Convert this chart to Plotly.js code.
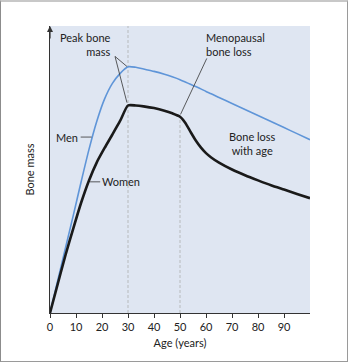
<!DOCTYPE html>
<html>
<head>
<meta charset="utf-8">
<script src="https://cdn.plot.ly/plotly-3.0.1.min.js"></script>
<style>
  html, body { margin: 0; padding: 0; background: #ffffff; }
  #frame {
    position: absolute; left: 0; top: 0;
    width: 346px; height: 359px;
    border-top: 2px solid #c8c8c8;
    border-left: 1px solid #8c8c8c;
    border-right: 1px solid #9a9a9a;
    border-bottom: 1px solid #9a9a9a;
  }
  #chart { width: 346px; height: 359px; }
</style>
</head>
<body>
<div id="frame"><div id="chart"></div></div>
<script>
// Age in years
const ages = [0,3,6,9,12,15,18,21,24,27,30,33,36,40,44,47,50,52,54,56,58,60,62,65,70,75,80,85,90,95,100];
// Relative bone mass, men
const menMass = [0,11.4,22.8,34.2,45.8,57,66.8,74.6,80,83.5,85.8,85.6,85,84.2,83.2,82.3,81.3,80.5,79.7,78.9,78.1,77.2,76.4,75.1,73,70.9,68.8,66.7,64.6,62.5,60.4];
// Relative bone mass, women
const womenMass = [0,10.2,20.3,29.6,38.5,46.2,52.5,57.5,62.2,67,72.3,72.3,72,71.4,70.5,69.6,68.4,66.3,63.2,60.2,57.7,55.7,54.2,52.4,50,48,46.2,44.5,43,41.5,40];
// Axis ticks
const xTicks = [0,10,20,30,40,50,60,70,80,90];
const xTickLabels = ['0','10','20','30','40','50','60','70','80','90'];
// Key ages marked by dashed lines
const peakAge = 30;
const menopauseAge = 50;
const womenAtMenopause = womenMass[ages.indexOf(menopauseAge)];

const FONT = 'Lato, "Open Sans", sans-serif';
const TXT = '#222222';

const traces = [
  { x: ages, y: menMass, type: 'scatter', mode: 'lines', name: 'Men',
    line: { color: '#5f95d8', width: 1.6, shape: 'spline', smoothing: 0.7 }, hoverinfo: 'skip' },
  { x: ages, y: womenMass, type: 'scatter', mode: 'lines', name: 'Women',
    line: { color: '#1a1a1a', width: 2.6, shape: 'spline', smoothing: 0.6 }, hoverinfo: 'skip' }
];

const leader = { color: '#333333', width: 0.8 };
const dashed = { color: '#a6a6a6', width: 0.7, dash: '3px,2px' };
const shapes = [
  { type: 'line', xref: 'x', yref: 'y', x0: peakAge, x1: peakAge, y0: 0, y1: 100, line: dashed, layer: 'below' },
  { type: 'line', xref: 'x', yref: 'y', x0: menopauseAge, x1: menopauseAge, y0: 0, y1: womenAtMenopause, line: dashed, layer: 'below' },
  // Peak bone mass leaders
  { type: 'line', x0: 25.0, y0: 89.4, x1: 29.6, y1: 85.9, line: leader },
  { type: 'line', x0: 25.0, y0: 89.4, x1: 29.6, y1: 73.3, line: leader },
  // Menopausal bone loss leader
  { type: 'line', x0: 60.3, y0: 88.7, x1: 50.2, y1: 69.2, line: leader },
  // Men / Women leaders
  { type: 'line', x0: 11.8, y0: 61.3, x1: 16.0, y1: 61.3, line: leader },
  { type: 'line', x0: 15.4, y0: 45.7, x1: 19.3, y1: 45.7, line: leader }
];

const annotations = [
  { xref: 'paper', yref: 'paper', x: 0, y: 1, ax: 0, ay: 14, text: '',
    showarrow: true, arrowhead: 2, arrowsize: 1, arrowwidth: 1.2, arrowcolor: '#333333' },
  { x: 24.4, y: 93.5, text: 'Peak bone<br>mass', showarrow: false,
    xanchor: 'right', yanchor: 'middle', align: 'right' },
  { x: 59.3, y: 93.4, text: 'Menopausal<br>bone loss', showarrow: false,
    xanchor: 'left', yanchor: 'middle', align: 'left' },
  { x: 77.7, y: 59.1, text: 'Bone loss<br>with age', showarrow: false,
    xanchor: 'center', yanchor: 'middle', align: 'center' },
  { x: 11.6, y: 61.3, text: 'Men', showarrow: false, xanchor: 'right', yanchor: 'middle' },
  { x: 19.4, y: 45.7, text: 'Women', showarrow: false, xanchor: 'left', yanchor: 'middle' }
];

const layout = {
  width: 346, height: 359,
  margin: { l: 49, r: 37, t: 24, b: 48, pad: 0 },
  paper_bgcolor: '#ffffff',
  plot_bgcolor: '#dfe6f2',
  showlegend: false,
  font: { family: FONT, size: 11, color: TXT },
  xaxis: {
    range: [0, 100], tickvals: xTicks, ticktext: xTickLabels,
    ticks: 'outside', ticklen: 4, tickwidth: 1, tickcolor: '#333333',
    showline: true, linecolor: '#333333', linewidth: 1.2,
    showgrid: false, zeroline: false, fixedrange: true,
    tickfont: { family: FONT, size: 11, color: TXT },
    title: { text: 'Age (years)', standoff: 6, font: { family: FONT, size: 11, color: TXT } }
  },
  yaxis: {
    range: [0, 100], showticklabels: false, ticks: '',
    showline: true, linecolor: '#333333', linewidth: 1.2,
    showgrid: false, zeroline: false, fixedrange: true,
    title: { text: 'Bone mass', standoff: 12, font: { family: FONT, size: 11, color: TXT } }
  },
  shapes: shapes,
  annotations: annotations.map(a => Object.assign({ xref: 'x', yref: 'y', font: { family: FONT, size: 11, color: TXT } }, a))
};

Plotly.newPlot('chart', traces, layout, { displayModeBar: false, staticPlot: true });
</script>
</body>
</html>
